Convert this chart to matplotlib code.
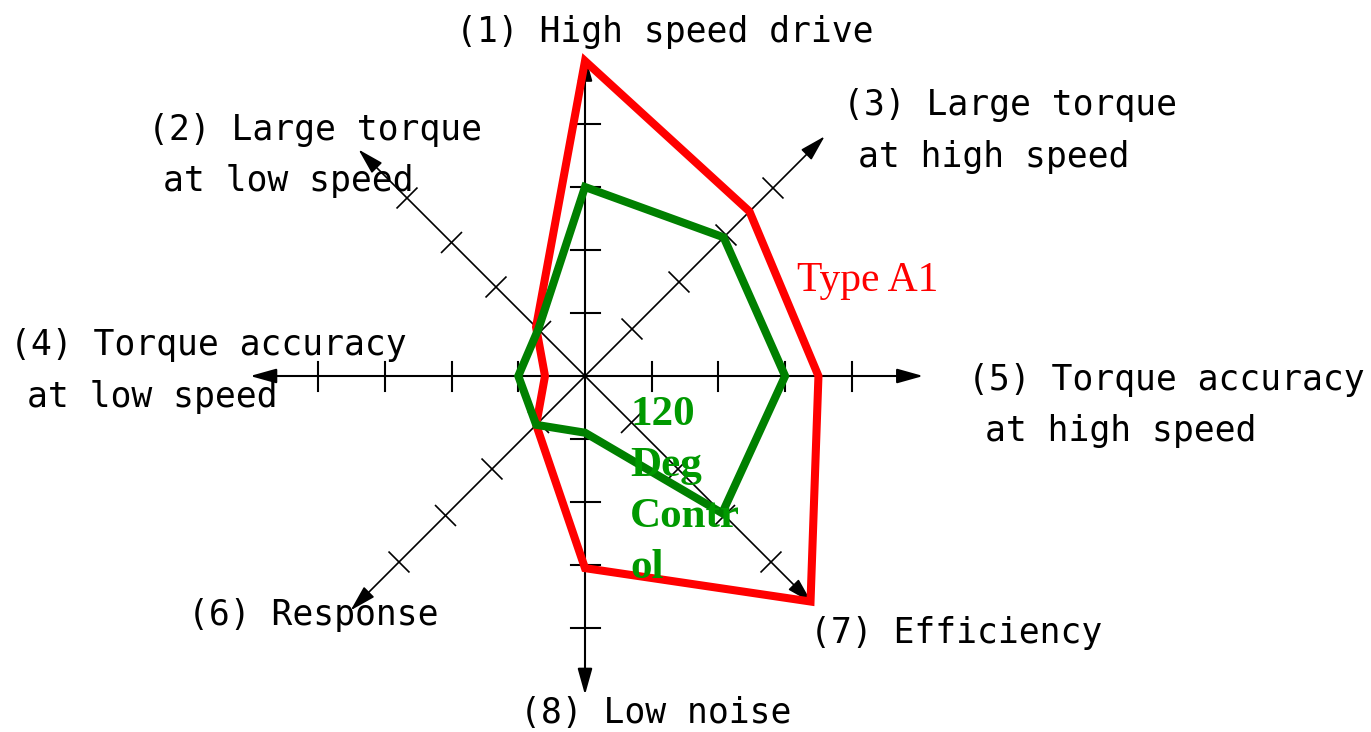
import numpy as np
import matplotlib.pyplot as plt
from matplotlib.patches import Polygon

# --- data: scores on each radar axis, order (1)..(8) ---
axis_names = ["(1) High speed drive", "(2) Large torque at low speed",
              "(3) Large torque at high speed", "(4) Torque accuracy at low speed",
              "(5) Torque accuracy at high speed", "(6) Response",
              "(7) Efficiency", "(8) Low noise"]
type_a1 = [5.0, 1.1, 3.5, 0.6, 3.5, 1.05, 4.85, 3.05]
deg120 = [3.0, 1.05, 2.95, 1.0, 3.0, 1.05, 2.95, 0.9]
tick_values = [1, 2, 3, 4]

# label text as drawn on the chart (line by line)
label_lines = [
    ["(1) High speed drive"],
    ["(2) Large torque", "at low speed"],
    ["(3) Large torque", "at high speed"],
    ["(4) Torque accuracy", "at low speed"],
    ["(5) Torque accuracy", "at high speed"],
    ["(6) Response"],
    ["(7) Efficiency"],
    ["(8) Low noise"],
]

# --- geometry (pixel space, y pointing down) ---
W, H = 1371, 732
cx, cy = 585, 376
# pixel offset of one score unit along each axis
unit = np.array([
    [0, -63], [-44.5, -44.5], [47, -47], [-66.7, 0],
    [66.7, 0], [-46.5, 46.5], [46.5, 46.5], [0, 63],
])
axis_len = [5.1, 5.09, 5.1, 5.02, 5.07, 5.04, 4.88, 5.06]
# polygon goes round the chart in this axis order
ring = [0, 2, 4, 6, 7, 5, 3, 1]

label_pos = [
    [(456, 32)],
    [(148, 130), (163, 181)],
    [(843, 105), (858, 157)],
    [(10, 345), (27, 397)],
    [(968, 380), (985, 431)],
    [(188, 615)],
    [(810, 633)],
    [(520, 713)],
]


def point(i, v):
    return cx + unit[i][0] * v, cy + unit[i][1] * v


fig = plt.figure(figsize=(W / 100, H / 100), dpi=100)
ax = fig.add_axes([0, 0, 1, 1])
ax.set_xlim(0, W)
ax.set_ylim(H, 0)
ax.axis("off")

# axes with arrows and ticks
for i in range(8):
    diag = unit[i][0] != 0 and unit[i][1] != 0
    lw = 1.2 if diag else 1.5
    tip = point(i, axis_len[i])
    ax.annotate("", xy=tip, xytext=(cx, cy),
                arrowprops=dict(arrowstyle="-|>,head_length=1.0,head_width=0.28",
                                mutation_scale=16, color="black", lw=lw,
                                shrinkA=0, shrinkB=0), zorder=1)
    d = unit[i] / np.linalg.norm(unit[i])
    perp = np.array([-d[1], d[0]])
    half = 14 if diag else 14.5
    for t in tick_values:
        px, py = point(i, t)
        ax.plot([px - perp[0] * half, px + perp[0] * half],
                [py - perp[1] * half, py + perp[1] * half],
                color="black", lw=lw, zorder=1)

# series polygons
for vals, col, z in [(type_a1, "#ff0000", 2), (deg120, "#008000", 3)]:
    pts = [point(i, vals[i]) for i in ring]
    ax.add_patch(Polygon(pts, closed=True, fill=False, edgecolor=col,
                         lw=5.8, joinstyle="miter", zorder=z))

# axis labels
for lines, poss in zip(label_lines, label_pos):
    for txt, (x, y) in zip(lines, poss):
        ax.text(x, y, txt, fontsize=25, family="DejaVu Sans Mono",
                ha="left", va="center", color="black", zorder=5)

# series labels
ax.text(797, 291, "Type A1", fontsize=30, family="Liberation Serif",
        color="#ff0000", ha="left", va="baseline", zorder=5)
for k, s in enumerate(["120", "Deg", "Contr", "ol"]):
    ax.text(630, 425 + 51 * k, s, fontsize=31, family="Liberation Serif",
            fontweight="bold", color="#009900", ha="left", va="baseline",
            zorder=5)

fig.savefig("out.png", dpi=100)
